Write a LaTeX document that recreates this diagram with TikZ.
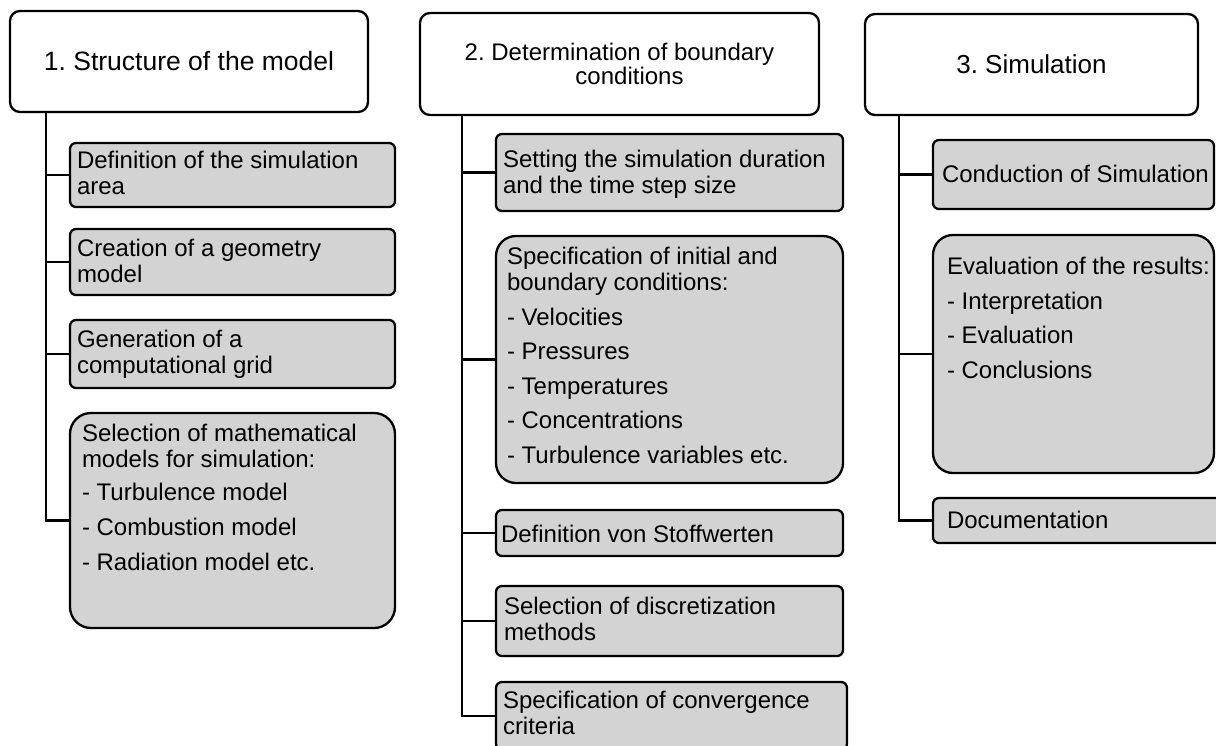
\documentclass[tikz,border=0pt]{standalone}
\usepackage{fontspec}
\setmainfont{Liberation Sans}
\frenchspacing
\definecolor{boxgray}{RGB}{211,211,211}
\tikzset{
  head/.style={draw, line width=2.3pt, rounded corners=10pt, fill=white, anchor=north west, outer sep=0pt, inner sep=0pt, align=center},
  sub/.style={draw, line width=2.3pt, rounded corners=6pt, fill=boxgray, anchor=north west, outer sep=0pt, inner sep=0pt},
  bigsub/.style={sub, rounded corners=21pt},
  lbl/.style={anchor=base west, inner sep=0pt, outer sep=0pt, align=left, font=\fontsize{24}{25.5}\selectfont},
  link/.style={line width=2.2pt},
}
\begin{document}
\begin{tikzpicture}[x=1pt,y=-1pt]
\useasboundingbox (0,0) rectangle (1216,745);
\clip (0,0) rectangle (1216,745);
% headers
\node[head, minimum width=358pt, minimum height=101pt, font=\fontsize{26.5}{28}\selectfont] (h1) at (10,11) {1. Structure of the model};
\node[head, minimum width=399pt, minimum height=102pt, font=\fontsize{24}{24}\selectfont] (h2) at (420,13) {2. Determination of boundary\\\hspace*{20pt}conditions};
\node[head, minimum width=333pt, minimum height=101pt, font=\fontsize{26}{28}\selectfont] (h3) at (865,14) {3. Simulation};
% trunk positions
\coordinate (k1) at (46,0);
\coordinate (k2) at (462,0);
\coordinate (k3) at (899,0);
% column 1 boxes
\node[sub, minimum width=325pt, minimum height=64pt] (b11) at (70,143) {};
\node[sub, minimum width=325pt, minimum height=66pt] (b12) at (70,229) {};
\node[sub, minimum width=325pt, minimum height=68pt] (b13) at (70,320) {};
\node[bigsub, minimum width=325pt, minimum height=215pt] (b14) at (70,413) {};
% column 2 boxes
\node[sub, minimum width=347pt, minimum height=77pt] (b21) at (496,134) {};
\node[bigsub, rounded corners=20pt, minimum width=347pt, minimum height=247pt] (b22) at (496,236) {};
\node[sub, minimum width=347pt, minimum height=46pt] (b23) at (496,510) {};
\node[sub, minimum width=347pt, minimum height=70pt] (b24) at (496,586) {};
\node[sub, minimum width=351pt, minimum height=68pt] (b25) at (496,682) {};
% column 3 boxes
\node[sub, minimum width=281pt, minimum height=69pt] (b31) at (933,140) {};
\node[bigsub, rounded corners=20pt, minimum width=281pt, minimum height=238pt] (b32) at (933,235) {};
\node[sub, minimum width=300pt, minimum height=45pt] (b33) at (933,498) {};
% texts column 1 (anchored at the baseline of the last line)
\node[lbl] (t11) at (77,194) {Definition of the simulation\\area};
\node[lbl] (t12) at (77,282) {Creation of a geometry\\model};
\node[lbl] (t13) at (77,373) {Generation of a\\computational grid};
\node[lbl] (t14) at (82,570) {Selection of mathematical\\models for simulation:\\[8pt]- Turbulence model\\[9.5pt]- Combustion model\\[9pt]- Radiation model etc.};
% texts column 2
\node[lbl] (t21) at (503,193) {Setting the simulation duration\\and the time step size};
\node[lbl] (t22) at (507,463) {Specification of initial and\\boundary conditions:\\[9.5pt]- Velocities\\[9pt]- Pressures\\[9pt]- Temperatures\\[9pt]- Concentrations\\[9pt]- Turbulence variables etc.};
\node[lbl] (t23) at (501,542) {Definition von Stoffwerten};
\node[lbl] (t24) at (504,640) {Selection of discretization\\methods};
\node[lbl] (t25) at (503,734) {Specification of convergence\\criteria};
% texts column 3
\node[lbl] (t31) at (942,182) {Conduction of Simulation};
\node[lbl] (t32) at (947,378) {Evaluation of the results:\\[9.5pt]- Interpretation\\[9pt]- Evaluation\\[9pt]- Conclusions};
\node[lbl] (t33) at (947,528) {Documentation};
% connectors column 1
\draw[link] (h1.south -| k1) |- (b14.west);
\draw[link] (b11.west -| k1) -- (b11.west);
\draw[link] (b12.west -| k1) -- (b12.west);
\draw[link] (b13.west -| k1) -- (b13.west);
% connectors column 2
\draw[link] (h2.south -| k2) |- (b25.west);
\draw[link] (b21.west -| k2) -- (b21.west);
\draw[link] (b22.west -| k2) -- (b22.west);
\draw[link] (b23.west -| k2) -- (b23.west);
\draw[link] (b24.west -| k2) -- (b24.west);
% connectors column 3
\draw[link] (h3.south -| k3) |- (b33.west);
\draw[link] (b31.west -| k3) -- (b31.west);
\draw[link] (b32.west -| k3) -- (b32.west);
\end{tikzpicture}
\end{document}
